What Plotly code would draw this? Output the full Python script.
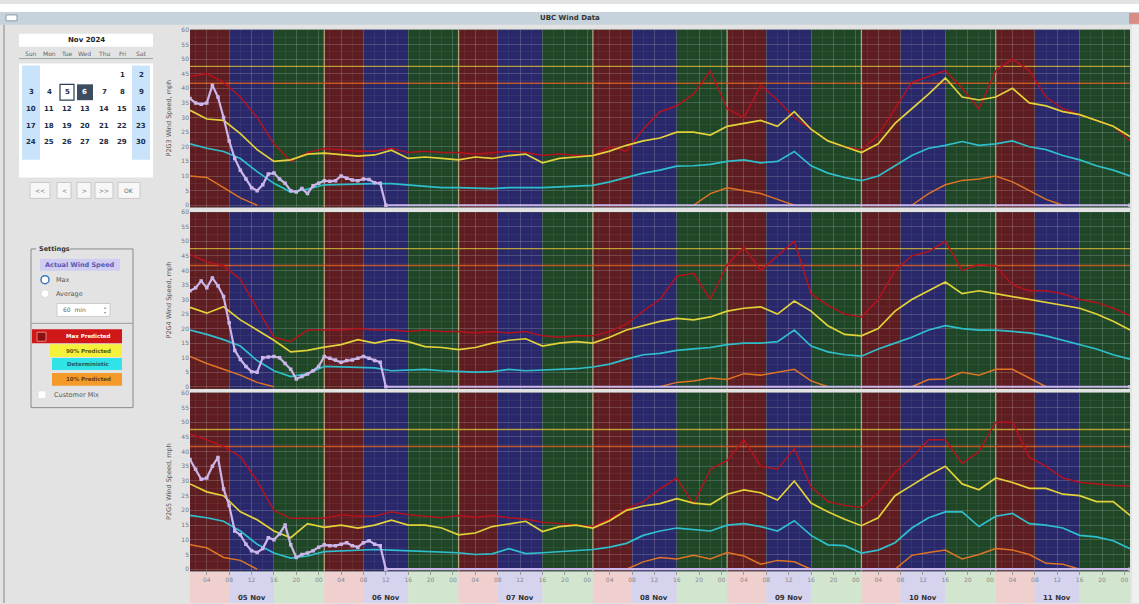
import plotly.graph_objects as go

W, H = 1139, 604
N = None

# ---------------- data ----------------
hours = list(range(1, 170, 3))          # hours since 05 Nov 00:00, every 3 h
actual_hours = list(range(1, 36)) + [36, 169]

day_labels = ["05 Nov", "06 Nov", "07 Nov", "08 Nov", "09 Nov", "10 Nov", "11 Nov"]
tick_hours = list(range(4, 169, 4))
tick_text = ["%02d" % (h % 24) for h in tick_hours]
y_ticks = list(range(0, 61, 5))
thresholds = [47.5, 41.7]

panel_titles = ["P2G3 Wind Speed, mph", "P2G4 Wind Speed, mph", "P2G5 Wind Speed, mph"]

p1_max = [44, 45, 42, 37, 30, 21, 15, 18, 19.4, 19, 18.5, 18.5, 19.5, 18, 18.5, 18, 18, 17.5, 18, 18.5,
          18, 17, 17.5, 17, 17, 20, 18.5, 26, 32, 34, 38, 46, 33, 30, 41, 36, 30, 26, 22, 20,
          19, 24, 33, 42, 44, 46, 40, 33, 46, 50, 46, 37, 33, 31, 29, 27, 22]
p1_p90 = [32.5, 29.5, 29, 24.5, 19, 15, 15.5, 17.5, 17.8, 17.2, 16.8, 17.2, 18.8, 16, 16.5, 16, 15.5, 16.5, 16, 17,
          17.5, 14.5, 16, 16.5, 17, 18.5, 20.5, 22, 23, 25, 25, 24, 27, 28, 29, 27, 32, 26, 22, 20,
          18, 21, 28, 33, 38, 43.5, 37, 36, 37, 40, 35, 34, 32, 31, 29, 27, 23.5]
p1_det = [21, 19.5, 18.4, 16, 11.5, 7.5, 4.5, 5.5, 7, 7.2, 7.4, 7.4, 7.4, 7, 6.5, 6, 6, 5.8, 5.7, 6,
          6, 6, 6.3, 6.5, 6.8, 8, 9.5, 11, 12, 13.4, 13.5, 14, 15, 15.5, 14.5, 15, 18.4, 13.5, 11, 9.5,
          8.4, 10, 13.5, 17, 19.5, 20.5, 21.8, 20.5, 21, 22, 20, 19, 17, 15.5, 13.5, 12, 10]
p1_p10 = [10, 9.5, 6, 2.5, 0] + [N] * 25 + [0, 4, 6, 5, 4, 2, 0] + [N] * 6 + \
         [0, 4, 7, 8.5, 9, 10, 8, 5, 2, 0] + [N] * 4
p1_act = [36.5, 35, 34.5, 35, 41, 37, 30, 22, 16, 12, 9, 6, 5, 7, 10.7, 11, 9, 7.5, 5, 4.5,
          5.7, 4, 6.7, 7.5, 8.4, 8.2, 8.4, 10, 9.2, 8.6, 8.4, 9, 8.8, 7.7, 7.5, 0, 0]

p2_max = [45.5, 43, 41.5, 37, 27, 17, 15.5, 19.5, 19.5, 19.5, 20, 19.5, 19.5, 19, 19.5, 19, 19, 18.5, 19, 18.5,
          19, 17.5, 17, 17.5, 17.5, 19, 21.5, 26, 30, 38, 39, 30, 42, 48, 40, 45, 50, 32, 28, 25,
          24, 30, 40, 45, 46.5, 50, 40, 42, 41.5, 35, 33, 33, 32, 30, 29, 27, 24.5]
p2_p90 = [27.3, 25.3, 27.5, 23, 19.5, 16, 12, 12.5, 13.6, 14.5, 16.2, 15, 16.2, 15.5, 13.8, 13.5, 12.8, 13.5, 15, 16,
          16.5, 14, 15, 15.5, 15, 17, 19.5, 21, 22.5, 23.5, 23, 24, 26, 27, 27.5, 25, 29.5, 26, 21, 18,
          17.5, 20, 26, 30, 33, 36, 32, 33, 32, 31, 30, 29, 28, 27, 25, 22.5, 19.5]
p2_det = [19.5, 18, 16.2, 14, 9, 5.5, 3.5, 4.5, 7, 6.8, 6.7, 6.5, 5.5, 5.8, 6, 5.5, 5.3, 5, 5.2, 6,
          5.5, 5.7, 6, 6.2, 6.8, 7.8, 9.5, 11, 11.5, 12.5, 13, 13.5, 14.5, 15, 15, 15.5, 19.5, 14, 12, 11,
          10.5, 13, 15, 17, 19.5, 21, 20, 19.5, 19.5, 19, 18.5, 17.5, 16, 14.5, 13, 11, 9.5]
p2_p10 = [10.4, 8, 6, 4, 1.5, 0] + [N] * 22 + [0, 1.5, 2, 3, 2.5, 4.5, 4, 5, 6, 2, 0] + [N] * 4 + \
         [0, 2.5, 2.7, 5, 4, 6, 6, 3, 0] + [N] * 5
p2_act = [33, 34, 36.4, 34, 37.4, 34.7, 31, 22, 12.5, 9.4, 7, 5.2, 5, 10, 10.2, 10.4, 10, 8, 6, 2.7,
          3.5, 4.4, 5.5, 7, 10.4, 9.8, 9.2, 8.4, 9, 9.2, 9.8, 10.4, 9.8, 9, 8.4, 0, 0]

p3_max = [46, 44, 41.7, 38.3, 30, 20, 17.3, 17.3, 17.3, 18.5, 18, 18, 19.5, 18.5, 18, 17.5, 18.3, 17.7, 18.3, 17.5,
          17, 16, 15.5, 15, 14.5, 17, 20.5, 23, 27.3, 31, 22, 34, 37, 44, 35, 34, 41, 28, 23, 21.7,
          21, 26, 33, 38, 44, 44, 36, 40, 50, 50, 38, 35, 31, 29.6, 29, 28.5, 28.3]
p3_p90 = [29, 26.3, 25, 19.5, 16.8, 13, 10.7, 15.5, 14.2, 15, 14, 15, 16.7, 15, 15, 14, 11.7, 12.3, 14.5, 15.5,
          16.3, 12.8, 14.5, 15, 14, 16.5, 20, 21.5, 22.3, 24, 22.5, 22, 25.5, 27, 26, 23.5, 30, 22.5, 19.5, 17,
          14.8, 17.5, 25, 28.5, 32, 35, 29, 27, 31, 29.5, 27.5, 27.5, 25.5, 25, 23, 23, 18.3]
p3_det = [18.3, 17.5, 16.3, 13, 8.5, 5.5, 3.8, 4.5, 6, 6.3, 6.5, 6.7, 6.5, 6.3, 6.2, 6, 5.6, 5, 5.2, 7,
          5.3, 5.6, 6, 6.3, 6.7, 7.5, 8.8, 11.5, 13, 14, 13.5, 13, 15, 15.5, 14.5, 13, 16.5, 11.5, 8.3, 8,
          5.5, 6.5, 9, 14, 17.5, 19.5, 19.5, 14.5, 18, 19, 15.5, 15, 14, 11.5, 11, 9.7, 7]
p3_p10 = [8.3, 7.3, 4, 3, 0] + [N] * 21 + [0, 2.5, 4, 3.5, 4.7, 3.5, 5.7, 4.5, 1.7, 3, 2.5, 0] + [N] * 4 + \
         [0, 4.7, 5.7, 6.5, 3.5, 5, 7, 6.5, 5, 2, 1.7, 0] + [N] * 3
p3_act = [37.3, 34, 30.6, 31, 35, 38, 27.3, 21.7, 13, 11.7, 8.5, 6.3, 5.7, 7, 10.7, 10, 12, 15, 8.3, 4,
          5, 5.5, 6.3, 7.5, 8.3, 8, 8, 8.5, 9, 8, 7.5, 9, 9.7, 8.5, 8, 0, 0]

panels_data = [
    (p1_max, p1_p90, p1_det, p1_p10, p1_act),
    (p2_max, p2_p90, p2_det, p2_p10, p2_act),
    (p3_max, p3_p90, p3_det, p3_p10, p3_act),
]

# ---------------- styling ----------------
FONT = "DejaVu Sans"
C_MAX = "#b5121e"
C_P90 = "#e2d23a"
C_DET = "#2fbfcc"
C_P10 = "#df7424"
C_ACT = "#cbb6ea"
BG_RED = "#5e1d21"
BG_BLUE = "#29286a"
BG_GREEN = "#1f4727"
LB_RED = "#f0cfcf"
LB_BLUE = "#d6d3ef"
LB_GREEN = "#d2e6cf"
PAPER = "#e3e3e3"

PANEL_PX = [(26, 205), (210, 388), (392, 572)]
X0, X1 = 190, 1130


def px(x):
    return x / W


def py(y):
    return 1 - y / H


def note(text, x, y, size=7, color="#444", xanchor="center", **kw):
    d = dict(text=text, xref="paper", yref="paper", x=px(x), y=py(y), showarrow=False,
             xanchor=xanchor, yanchor="middle", font=dict(family=FONT, size=size, color=color))
    d.update(kw)
    return d


def prect(x0, y0, x1, y1, fill, line=None, lw=1, kind="rect", layer="above"):
    return dict(type=kind, xref="paper", yref="paper", x0=px(x0), x1=px(x1), y0=py(y1), y1=py(y0),
                fillcolor=fill, line=dict(color=line or fill, width=lw if line else 0), layer=layer)


fig = go.Figure()
shapes = []
annotations = []

bands = [(1, 8, BG_RED, LB_RED), (8, 16, BG_BLUE, LB_BLUE), (16, 25, BG_GREEN, LB_GREEN)]

for i, (top, bot) in enumerate(PANEL_PX):
    key = "" if i == 0 else str(i + 1)
    xa, ya = "x" + key, "y" + key
    mx, p90, det, p10, act = panels_data[i]
    fig.add_trace(go.Scatter(x=hours, y=mx, xaxis=xa, yaxis=ya, mode="lines",
                             line=dict(color=C_MAX, width=1.5), name="Max Predicted", showlegend=False))
    fig.add_trace(go.Scatter(x=hours, y=p10, xaxis=xa, yaxis=ya, mode="lines",
                             line=dict(color=C_P10, width=1.5), name="10% Predicted", showlegend=False))
    fig.add_trace(go.Scatter(x=hours, y=det, xaxis=xa, yaxis=ya, mode="lines",
                             line=dict(color=C_DET, width=1.7), name="Deterministic", showlegend=False))
    fig.add_trace(go.Scatter(x=hours, y=p90, xaxis=xa, yaxis=ya, mode="lines",
                             line=dict(color=C_P90, width=1.7), name="90% Predicted", showlegend=False))
    fig.add_trace(go.Scatter(x=actual_hours, y=act, xaxis=xa, yaxis=ya, mode="lines+markers",
                             line=dict(color=C_ACT, width=2.2),
                             marker=dict(symbol="square", size=3.5, color=C_ACT),
                             name="Actual", showlegend=False))

    for d in range(7):
        for (a, b, c, _) in bands:
            shapes.append(dict(type="rect", xref=xa, yref=ya + " domain", x0=a + 24 * d, x1=b + 24 * d,
                               y0=0, y1=1, fillcolor=c, line=dict(width=0), layer="below"))
    for d in range(1, 7):
        shapes.append(dict(type="line", xref=xa, yref=ya + " domain", x0=1 + 24 * d, x1=1 + 24 * d,
                           y0=0, y1=1, line=dict(color="rgba(225,210,160,0.7)", width=1.3), layer="below"))
    shapes.append(dict(type="line", xref=xa + " domain", yref=ya, x0=0, x1=1, y0=thresholds[0], y1=thresholds[0],
                       line=dict(color="rgba(205,175,45,0.85)", width=1.4), layer="below"))
    shapes.append(dict(type="line", xref=xa + " domain", yref=ya, x0=0, x1=1, y0=thresholds[1], y1=thresholds[1],
                       line=dict(color="rgba(215,95,35,0.85)", width=1.4), layer="below"))

    fig.layout["xaxis" + key] = dict(
        domain=[px(X0), px(X1)], range=[1, 169], anchor=ya, fixedrange=True,
        tickvals=tick_hours, ticktext=tick_text, showticklabels=(i == 2),
        ticks="outside" if i == 2 else "", ticklen=3, tickcolor="#999",
        tickfont=dict(family=FONT, size=6, color="#888"),
        showgrid=True, gridcolor="rgba(255,255,255,0.13)", gridwidth=1,
        minor=dict(dtick=2, tick0=0, showgrid=True, gridcolor="rgba(255,255,255,0.06)"),
        zeroline=False, showline=False)
    fig.layout["yaxis" + key] = dict(
        domain=[py(bot), py(top)], range=[-0.7, 60], anchor=xa, fixedrange=True,
        tickvals=y_ticks, tickfont=dict(family=FONT, size=6, color="#777"),
        ticks="", showgrid=True, gridcolor="rgba(255,255,255,0.13)", gridwidth=1,
        minor=dict(dtick=2.5, showgrid=True, gridcolor="rgba(255,255,255,0.05)"),
        zeroline=False, showline=False)
    annotations.append(note(panel_titles[i], 169, (top + bot) / 2, size=6.5, color="#555", textangle=-90))

# bottom time band strip
for d in range(7):
    for (a, b, _, c) in bands:
        shapes.append(dict(type="rect", xref="x3", yref="paper", x0=a + 24 * d, x1=b + 24 * d,
                           y0=0, y1=py(573), fillcolor=c, line=dict(width=0), layer="below"))
    annotations.append(dict(text="<b>%s</b>" % day_labels[d], xref="x3", yref="paper", x=12 + 24 * d,
                            y=py(599), xanchor="center", yanchor="middle", showarrow=False,
                            font=dict(family=FONT, size=7, color="#333")))

# ---------------- window chrome ----------------
shapes.append(prect(0, 0, W, 8, "#ffffff", layer="below"))
shapes.append(prect(0, 8, W, 21, "#c7d3dc", layer="below"))
shapes.append(prect(6, 11, 17, 17, "#ffffff", line="#8a99a5"))
shapes.append(prect(1129, 9, W, 20, "#d98c84"))
shapes.append(prect(1132, 21, W, H, "#f0f0f0", layer="below"))
shapes.append(dict(type="line", xref="paper", yref="paper", x0=px(4), x1=px(4), y0=0, y1=py(21),
                   line=dict(color="#b5b5b5", width=2)))
annotations.append(note("<b>UBC Wind Data</b>", 570, 14.5, size=7, color="#333"))

# ---------------- calendar ----------------
shapes.append(prect(19, 30, 153, 43, "#ffffff"))
annotations.append(note("<b>Nov 2024</b>", 86, 36.5, size=7, color="#222"))
shapes.append(dict(type="line", xref="paper", yref="paper", x0=px(19), x1=px(153), y0=py(55), y1=py(55),
                   line=dict(color="#9aa", width=1)))
shapes.append(prect(19, 60, 153, 175, "#ffffff"))
col_x = [31, 49, 67, 85, 104, 122, 141]
for cx in (col_x[0], col_x[6]):
    shapes.append(prect(cx - 9, 62, cx + 9, 157, "#c9e3fb"))
weekdays = ["Sun", "Mon", "Tue", "Wed", "Thu", "Fri", "Sat"]
for cx, wd in zip(col_x, weekdays):
    annotations.append(note(wd, cx, 50, size=6, color="#666"))
row_y = [72, 89, 106, 123, 139]
shapes.append(prect(col_x[2] - 7, 81, col_x[2] + 7, 97, "#ffffff", line="#2c3e50", lw=1.2))
shapes.append(prect(col_x[3] - 8, 81, col_x[3] + 8, 97, "#3b4d5f"))
day = 1
for r, ry in enumerate(row_y):
    for c in range(7):
        if r == 0 and c < 5:
            continue
        if day > 30:
            break
        col = "#ffffff" if day == 6 else "#1d2b44"
        annotations.append(note("<b>%d</b>" % day, col_x[c], ry, size=7, color=col))
        day += 1
buttons = [(30, 50, "<<"), (57, 71, "<"), (77, 91, ">"), (95, 113, ">>"), (118, 140, "OK")]
for (a, b, t) in buttons:
    shapes.append(prect(a, 180, b, 196, "#f7f7f7", line="#c8c8c8"))
    annotations.append(note(t, (a + b) / 2, 188, size=6, color="#666"))

# ---------------- settings box ----------------
shapes.append(dict(type="rect", xref="paper", yref="paper", x0=px(31), x1=px(133), y0=py(407), y1=py(247),
                   fillcolor="rgba(0,0,0,0)", line=dict(color="#8a8a8a", width=1)))
shapes.append(prect(36, 243, 70, 251, PAPER))
annotations.append(note("<b>Settings</b>", 37, 247, size=6.5, color="#333", xanchor="left"))
shapes.append(prect(40, 257, 120, 269, "#cfcdf3"))
annotations.append(note("<b>Actual Wind Speed</b>", 80, 263, size=6.5, color="#5a58b0"))
shapes.append(prect(41, 274, 49, 282, "#ffffff", line="#3a7ab8", lw=1.5, kind="circle"))
annotations.append(note("Max", 54, 278, size=6.5, color="#555", xanchor="left"))
shapes.append(prect(41, 288, 49, 296, "#ffffff", line="#dddddd", kind="circle"))
annotations.append(note("Average", 54, 292, size=6.5, color="#555", xanchor="left"))
shapes.append(prect(57, 302, 110, 315, "#ffffff", line="#cccccc"))
annotations.append(note("60  min", 61, 308.5, size=6, color="#666", xanchor="left"))
annotations.append(note("▴<br>▾", 105, 308.5, size=4, color="#888"))
shapes.append(dict(type="line", xref="paper", yref="paper", x0=px(31), x1=px(133), y0=py(322), y1=py(322),
                   line=dict(color="#9a9a9a", width=1)))
legend_rows = [
    (32, 328, 342, "#d01818", "Max Predicted", "#ffffff"),
    (50, 343, 356, "#f5f03a", "90% Predicted", "#5a5a10"),
    (52, 357, 369, "#2fe3e6", "Deterministic", "#205a60"),
    (52, 372, 385, "#f39a2a", "10% Predicted", "#6a3a10"),
]
for (x0, yt, yb, c, t, tc) in legend_rows:
    shapes.append(prect(x0, yt, 122, yb, c))
    annotations.append(note("<b>%s</b>" % t, 88, (yb + yt) / 2, size=5.5, color=tc))
shapes.append(prect(37, 331, 46, 340, "#8a1010", line="#f0a0a0", lw=0.8))
shapes.append(prect(38, 390, 46, 398, "#ffffff", line="#dddddd"))
annotations.append(note("Customer Mix", 52, 394, size=6.5, color="#555", xanchor="left"))

fig.update_layout(
    width=W, height=H, margin=dict(l=0, r=0, t=0, b=0),
    paper_bgcolor=PAPER, plot_bgcolor=BG_GREEN,
    shapes=shapes, annotations=annotations, showlegend=False,
    font=dict(family=FONT, size=7, color="#444"),
)

fig.write_html("out.html", config={"displayModeBar": False})
